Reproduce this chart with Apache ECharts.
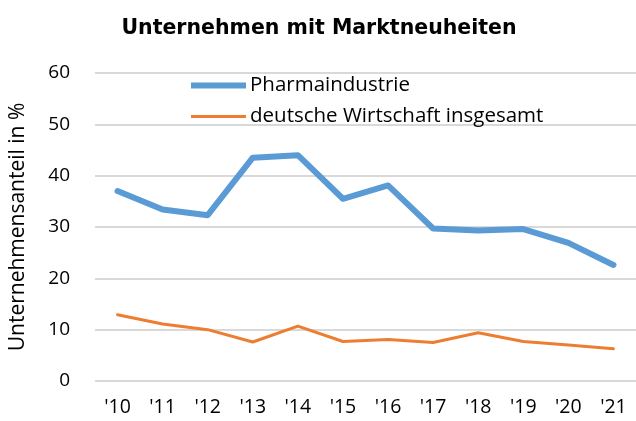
<!DOCTYPE html>
<html><head><meta charset="utf-8">
<script src="https://cdn.jsdelivr.net/npm/echarts@6/dist/echarts.min.js"></script>
<style>html,body{margin:0;padding:0;background:#fff}#c{width:636px;height:421px}</style>
</head><body><div id="c"></div>
<script>
var categories = ["'10","'11","'12","'13","'14","'15","'16","'17","'18","'19","'20","'21"];
var pharma = [37.0, 33.4, 32.3, 43.5, 44.0, 35.5, 38.1, 29.7, 29.3, 29.6, 26.9, 22.6];
var gesamt = [12.9, 11.1, 10.0, 7.6, 10.7, 7.7, 8.1, 7.5, 9.4, 7.7, 7.0, 6.3];
var yTicks = [0, 10, 20, 30, 40, 50, 60];

var chart = echarts.init(document.getElementById('c'), null, {renderer: 'canvas'});
var font = 'Open Sans';
chart.setOption({
  animation: false,
  title: {
    text: 'Unternehmen mit Marktneuheiten',
    left: 319, top: 18, textAlign: 'center', padding: 0,
    textStyle: {fontFamily: 'DejaVu Sans', fontWeight: 'bold', fontSize: 20.5, color: '#000'}
  },
  legend: {
    orient: 'vertical', left: 191, top: 75, padding: 0, itemWidth: 55, itemHeight: 6, itemGap: 10,
    textStyle: {fontFamily: font, fontSize: 20.5, lineHeight: 20, color: '#000', padding: [0,0,0,-1]},
    data: [
      {name: 'Pharmaindustrie', icon: 'path://M0,0h55v6h-55z'},
      {name: 'deutsche Wirtschaft insgesamt', icon: 'path://M0,0M0,6M0,1.5h55v3h-55z'}
    ]
  },
  grid: {left: 95, width: 547, top: 73, height: 308},
  xAxis: {
    type: 'category', data: categories, boundaryGap: true,
    axisLine: {show: false}, axisTick: {show: false},
    axisLabel: {fontFamily: font, fontSize: 19.5, color: '#000', margin: 16, interval: 0}
  },
  yAxis: {
    type: 'value', min: yTicks[0], max: yTicks[yTicks.length-1], interval: 10,
    name: 'Unternehmensanteil in %', nameLocation: 'middle', nameGap: 66,
    nameTextStyle: {fontFamily: font, fontSize: 21, color: '#000'},
    axisLine: {show: false}, axisTick: {show: false},
    axisLabel: {fontFamily: font, fontSize: 19, color: '#000', margin: 25},
    splitLine: {lineStyle: {color: '#D9D9D9', width: 2}}
  },
  series: [
    {name: 'Pharmaindustrie', type: 'line', data: pharma, symbol: 'none',
     lineStyle: {color: '#5B9BD5', width: 6, cap: 'round', join: 'round'}, itemStyle: {color: '#5B9BD5'}},
    {name: 'deutsche Wirtschaft insgesamt', type: 'line', data: gesamt, symbol: 'none',
     lineStyle: {color: '#ED7D31', width: 3, cap: 'round', join: 'round'}, itemStyle: {color: '#ED7D31'}}
  ]
});
</script></body></html>
